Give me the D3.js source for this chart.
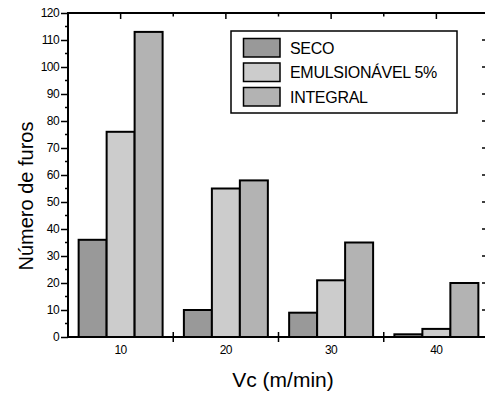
<!DOCTYPE html>
<html>
<head>
<meta charset="utf-8">
<script src="https://cdn.jsdelivr.net/npm/d3@7"></script>
<style>
html,body{margin:0;padding:0;background:#fff;}
svg{display:block;font-family:"Liberation Sans",Arial,sans-serif;}
</style>
</head>
<body>
<svg id="chart" width="485" height="394"></svg>
<script>
const categories = ["10", "20", "30", "40"];
const seriesNames = ["SECO", "EMULSIONÁVEL 5%", "INTEGRAL"];
const seco = [36, 10, 9, 1];
const emulsionavel = [76, 55, 21, 3];
const integral = [113, 58, 35, 20];
const yTicks = [0, 10, 20, 30, 40, 50, 60, 70, 80, 90, 100, 110, 120];
const colors = ["#999999", "#cccccc", "#b3b3b3"];
const xTitle = "Vc (m/min)";
const yTitle = "Número de furos";

(function () {
const seriesValues = [seco, emulsionavel, integral];
const data = categories.map((c, i) => ({
  cat: c,
  vals: seriesNames.map((s, j) => ({ s, j, v: seriesValues[j][i] }))
}));

const svg = d3.select("#chart");
const pL = 68, pR = 489, pT = 13, pB = 337;

const x = d3.scaleBand().domain(categories).range([pL, pR]).paddingInner(0).paddingOuter(0);
const x1 = d3.scaleBand().domain(seriesNames).range([0, x.bandwidth()]).paddingInner(0).paddingOuter(0.38);
const y = d3.scaleLinear().domain([0, 120]).range([pB, pT]);

// bars
const g = svg.append("g");
g.selectAll("g.grp").data(data).join("g")
  .attr("transform", d => `translate(${x(d.cat)},0)`)
  .selectAll("rect").data(d => d.vals).join("rect")
  .attr("x", d => x1(d.s))
  .attr("y", d => y(d.v))
  .attr("width", x1.bandwidth())
  .attr("height", d => y(0) - y(d.v))
  .attr("fill", d => colors[d.j])
  .attr("stroke", "#000")
  .attr("stroke-width", 2);

// left axis
const minor = d3.range(5, 120, 10);
const leftAxis = svg.append("g").attr("transform", `translate(${pL},0)`)
  .call(d3.axisLeft(y).tickValues(yTicks).tickSize(7).tickPadding(2).tickFormat(d3.format("d")));
leftAxis.selectAll("text").attr("font-size", 12).attr("font-family", "Liberation Sans, Arial, sans-serif").attr("fill", "#000").attr("letter-spacing", -0.6);
leftAxis.selectAll("line").attr("stroke-width", 1.5);
leftAxis.select(".domain").remove();
svg.append("g").selectAll("line").data(minor).join("line")
  .attr("x1", pL - 3).attr("x2", pL).attr("y1", d => y(d)).attr("y2", d => y(d))
  .attr("stroke", "#000").attr("stroke-width", 1.5);

// right axis (inward ticks)
svg.append("g").selectAll("line").data(yTicks).join("line")
  .attr("x1", pR - 7).attr("x2", pR).attr("y1", d => y(d)).attr("y2", d => y(d))
  .attr("stroke", "#000").attr("stroke-width", 1.5);

// bottom labels
svg.append("g").selectAll("text").data(categories).join("text")
  .attr("x", d => x(d) + x.bandwidth() / 2)
  .attr("y", 354)
  .attr("text-anchor", "middle")
  .attr("font-size", 12)
  .attr("letter-spacing", -0.6)
  .text(d => d);

// bottom boundary ticks (crossing)
const boundaries = categories.slice(1);
svg.append("g").selectAll("line").data(boundaries).join("line")
  .attr("x1", d => x(d)).attr("x2", d => x(d))
  .attr("y1", pB - 5).attr("y2", pB + 5)
  .attr("stroke", "#000").attr("stroke-width", 1.5);

// top ticks: long at centers, short at boundaries
svg.append("g").selectAll("line").data(categories).join("line")
  .attr("x1", d => x(d) + x.bandwidth() / 2).attr("x2", d => x(d) + x.bandwidth() / 2)
  .attr("y1", pT).attr("y2", pT + 6)
  .attr("stroke", "#000").attr("stroke-width", 1.5);
svg.append("g").selectAll("line").data(boundaries).join("line")
  .attr("x1", d => x(d)).attr("x2", d => x(d))
  .attr("y1", pT).attr("y2", pT + 3.5)
  .attr("stroke", "#000").attr("stroke-width", 1.5);

// frame
svg.append("rect")
  .attr("x", pL).attr("y", pT).attr("width", pR - pL).attr("height", pB - pT)
  .attr("fill", "none").attr("stroke", "#000").attr("stroke-width", 2);

// legend
const lg = svg.append("g");
lg.append("rect").attr("x", 231).attr("y", 31).attr("width", 226).attr("height", 82)
  .attr("fill", "#fff").attr("stroke", "#000").attr("stroke-width", 1.5);
const items = lg.selectAll("g.item").data(seriesNames).join("g")
  .attr("transform", (d, i) => `translate(0,${38.5 + i * 24.5})`);
items.append("rect").attr("x", 243.5).attr("y", 0).attr("width", 36.5).attr("height", 18.5)
  .attr("fill", (d, i) => colors[i]).attr("stroke", "#000").attr("stroke-width", 1.5);
items.append("text").attr("x", 290).attr("y", 15).attr("font-size", 16).attr("letter-spacing", -0.3)
  .text(d => d);

// titles
svg.append("text").attr("x", 283).attr("y", 387).attr("text-anchor", "middle")
  .attr("font-size", 21).text(xTitle);
svg.append("text").attr("transform", "translate(33,196) rotate(-90)").attr("text-anchor", "middle")
  .attr("font-size", 20).text(yTitle);
})();
</script>
</body>
</html>
